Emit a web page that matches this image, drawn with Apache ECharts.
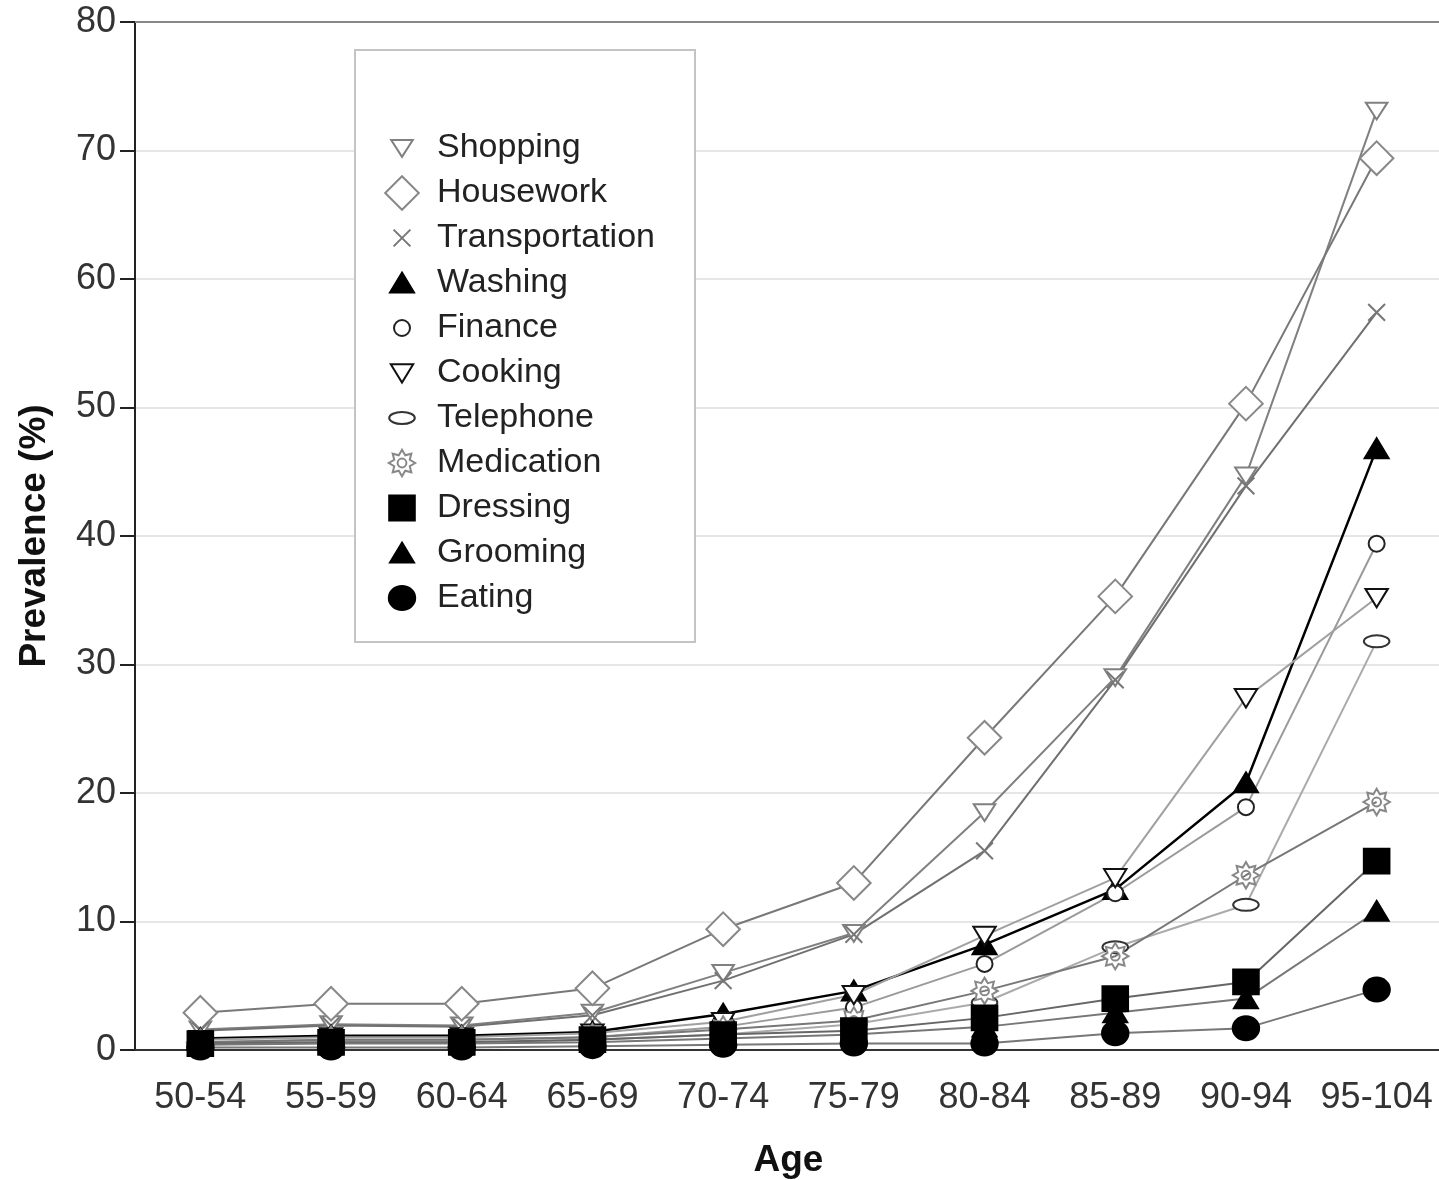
<!DOCTYPE html>
<html><head><meta charset="utf-8">
<script src="https://cdn.jsdelivr.net/npm/echarts@6/dist/echarts.min.js"></script>
<style>html,body{margin:0;padding:0;background:#fff}#c{width:1439px;height:1180px}</style>
</head><body><div id="c"></div>
<script>
const ages = ['50-54','55-59','60-64','65-69','70-74','75-79','80-84','85-89','90-94','95-104'];
const yTicks = [0,10,20,30,40,50,60,70,80];
const shopping       = [1.6, 2.0, 1.9, 2.9, 6.0, 9.1, 18.5, 29.0, 44.7, 73.1];
const housework      = [2.9, 3.6, 3.6, 4.8, 9.4, 13.0, 24.3, 35.3, 50.3, 69.4];
const transportation = [1.5, 1.9, 1.8, 2.7, 5.4, 9.0, 15.5, 28.8, 43.9, 57.4];
const washing        = [0.9, 1.1, 1.1, 1.4, 2.8, 4.6, 8.2, 12.5, 20.8, 46.8];
const finance        = [0.6, 0.8, 0.8, 1.0, 1.8, 3.3, 6.7, 12.2, 18.9, 39.4];
const cooking        = [0.8, 1.0, 1.0, 1.3, 2.2, 4.3, 8.9, 13.4, 27.4, 35.2];
const telephone      = [0.5, 0.6, 0.6, 0.8, 1.2, 2.0, 3.7, 8.0, 11.3, 31.8];
const medication     = [0.6, 0.8, 0.8, 1.0, 1.6, 2.3, 4.6, 7.3, 13.6, 19.3];
const dressing       = [0.5, 0.6, 0.6, 0.8, 1.2, 1.5, 2.5, 4.0, 5.3, 14.7];
const grooming       = [0.4, 0.5, 0.5, 0.6, 0.9, 1.2, 1.8, 2.9, 4.0, 10.8];
const eating         = [0.2, 0.2, 0.2, 0.3, 0.4, 0.5, 0.5, 1.3, 1.7, 4.7];

const B = 'M0 0M100 100';
function star(){
  let s = B;
  for (let k = 0; k < 16; k++) {
    const r = k % 2 ? 21 : 33;
    const a = -Math.PI / 2 + k * Math.PI / 8;
    s += (k ? 'L' : 'M') + (50 + r * Math.cos(a)).toFixed(2) + ' ' + (50 + r * Math.sin(a)).toFixed(2);
  }
  s += 'Z M39 50A11 11 0 1 0 61 50A11 11 0 1 0 39 50Z';
  return 'path://' + s;
}
const SYM = {
  triDown: 'path://' + B + 'M23 30L77 30L50 72Z',
  triDown2: 'path://' + B + 'M22 28L78 28L50 74Z',
  diamond: 'path://' + B + 'M50 8L92 50L50 92L8 50Z',
  cross: 'path://' + B + 'M29 29L71 71M71 29L29 71',
  triUp: 'path://' + B + 'M50 24L80 74L20 74Z',
  smallCircle: 'path://' + B + 'M30 50A20 20 0 1 0 70 50A20 20 0 1 0 30 50Z',
  ellipse: 'path://' + B + 'M18 50A32 15 0 1 0 82 50A32 15 0 1 0 18 50Z',
  star: star(),
  square: 'path://' + B + 'M18 19L82 19L82 81L18 81Z',
  bigCircle: 'path://' + B + 'M17 50A33 30 0 1 0 83 50A33 30 0 1 0 17 50Z'
};

const defs = [
  {name:'Shopping', data:shopping, sym:SYM.triDown, line:'#808080', fill:'#fff', stroke:'#808080', lw:2},
  {name:'Housework', data:housework, sym:SYM.diamond, line:'#787878', fill:'#fff', stroke:'#888', lw:2},
  {name:'Transportation', data:transportation, sym:SYM.cross, line:'#707070', fill:'#fff', stroke:'#777', lw:2},
  {name:'Washing', data:washing, sym:SYM.triUp, line:'#000', fill:'#000', stroke:'#000', lw:2.5},
  {name:'Finance', data:finance, sym:SYM.smallCircle, line:'#9a9a9a', fill:'#fff', stroke:'#222', lw:2},
  {name:'Cooking', data:cooking, sym:SYM.triDown2, line:'#a0a0a0', fill:'#fff', stroke:'#111', lw:2},
  {name:'Telephone', data:telephone, sym:SYM.ellipse, line:'#aaaaaa', fill:'#fff', stroke:'#333', lw:2},
  {name:'Medication', data:medication, sym:SYM.star, line:'#777', fill:'#fff', stroke:'#888', lw:2},
  {name:'Dressing', data:dressing, sym:SYM.square, line:'#666', fill:'#000', stroke:'#000', lw:2},
  {name:'Grooming', data:grooming, sym:SYM.triUp, line:'#777', fill:'#000', stroke:'#000', lw:2},
  {name:'Eating', data:eating, sym:SYM.bigCircle, line:'#777', fill:'#000', stroke:'#000', lw:2}
];

const FF = '"Liberation Sans", Arial, sans-serif';
const chart = echarts.init(document.getElementById('c'));
chart.setOption({
  animation: false,
  backgroundColor: '#fff',
  grid: {left: 135, top: 22, width: 1307, bottom: 130, outerBoundsMode: 'none', containLabel: false},
  graphic: [{
    type: 'rect', z: 3,
    shape: {x: 355, y: 50, width: 340, height: 592},
    style: {fill: '#fff', stroke: '#c4c4c4', lineWidth: 2}
  }],
  legend: {
    orient: 'vertical', left: 381, top: 127, padding: 0,
    itemWidth: 60, itemHeight: 40, itemGap: 3, selectedMode: false, z: 5,
    textStyle: {fontSize: 34, color: '#222', fontFamily: FF, lineHeight: 40},
    data: defs.map(d => ({name: d.name, icon: d.sym,
      itemStyle: {color: d.fill, borderColor: d.stroke, borderWidth: 2}}))
  },
  xAxis: [{
    type: 'category', data: ages, boundaryGap: true,
    axisLine: {lineStyle: {color: '#333', width: 2}},
    axisTick: {alignWithLabel: true, interval: 0, length: 18, lineStyle: {color: '#333', width: 2}},
    axisLabel: {interval: 0, fontSize: 36, color: '#333', margin: 30, fontFamily: FF},
    name: 'Age', nameLocation: 'middle', nameGap: 92,
    nameTextStyle: {fontSize: 37, fontWeight: 'bold', color: '#111', fontFamily: FF}
  }, {
    type: 'category', data: ages, position: 'top',
    axisLine: {lineStyle: {color: '#888', width: 2}},
    axisTick: {show: false}, axisLabel: {show: false}, splitLine: {show: false}
  }],
  yAxis: {
    type: 'value', min: yTicks[0], max: yTicks[yTicks.length - 1], interval: 10,
    axisLine: {show: true, lineStyle: {color: '#222', width: 2}},
    axisTick: {show: true, length: 15, lineStyle: {color: '#222', width: 2}},
    axisLabel: {fontSize: 36, color: '#333', margin: 19, fontFamily: FF},
    splitLine: {lineStyle: {color: '#e6e6e6', width: 2}},
    name: 'Prevalence (%)', nameLocation: 'middle', nameGap: 82, nameRotate: 90,
    nameTextStyle: {fontSize: 37, fontWeight: 'bold', color: '#111', fontFamily: FF}
  },
  series: defs.map(d => ({
    name: d.name, type: 'line', data: d.data, xAxisIndex: 0,
    symbol: d.sym, symbolSize: 40, showAllSymbol: true,
    lineStyle: {color: d.line, width: d.lw},
    itemStyle: {color: d.fill, borderColor: d.stroke, borderWidth: 2},
    emphasis: {disabled: true}
  }))
});
</script></body></html>
